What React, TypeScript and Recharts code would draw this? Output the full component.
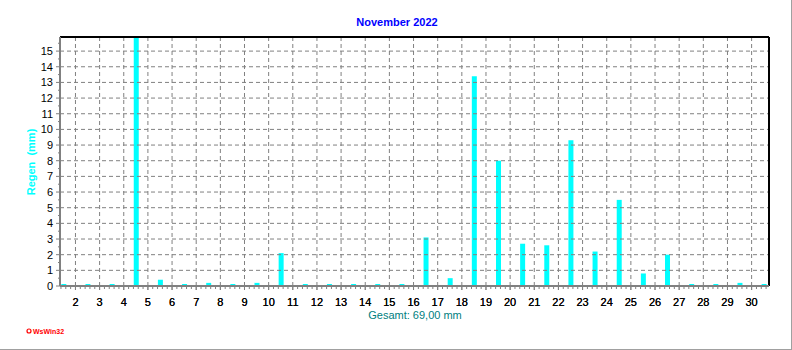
import React from 'react';
import { BarChart, Bar, XAxis, YAxis, ReferenceLine } from 'recharts';

// daily rain, November 2022 (mm)
const days = [
  1, 2, 3, 4, 5, 6, 7, 8, 9, 10, 11, 12, 13, 14, 15,
  16, 17, 18, 19, 20, 21, 22, 23, 24, 25, 26, 27, 28, 29, 30,
];
const rain = [
  0.1, 0, 0, 16.0, 0.4, 0, 0.2, 0, 0.2, 2.1, 0, 0, 0, 0, 0,
  3.1, 0.5, 13.4, 8.0, 2.7, 2.6, 9.3, 2.2, 5.5, 0.8, 2.0, 0, 0, 0.2, 0,
];
const dayTicks = [
  2, 3, 4, 5, 6, 7, 8, 9, 10, 11, 12, 13, 14, 15, 16,
  17, 18, 19, 20, 21, 22, 23, 24, 25, 26, 27, 28, 29, 30,
];
const rainTicks = [0, 1, 2, 3, 4, 5, 6, 7, 8, 9, 10, 11, 12, 13, 14, 15];
const title = 'November 2022';
const yLabel = 'Regen  (mm)';
const totalLabel = 'Gesamt: 69,00 mm';
const footer = 'WsWin32';

const X_DOMAIN: [number, number] = [1.36, 30.72];
const Y_DOMAIN: [number, number] = [0, 15.9];

// bars sit at noon of each day
const data = days.map((d, i) => ({ day: d, t: d + 0.5, rain: rain[i] }));

const round1 = (v: number) => Math.round(v * 10) / 10;
const minorX: number[] = [];
for (let v = 1.4; v < X_DOMAIN[1]; v += 0.2) minorX.push(round1(v));
const minorY: number[] = [];
for (let v = 0; v < Y_DOMAIN[1]; v += 0.5) minorY.push(v);

const isMajor = (v: number) => Math.abs(v - Math.round(v)) < 1e-6;
const FONT = '"Liberation Sans", Arial, sans-serif';
const GRAY = '#808080';

const XTick = (props: any) => {
  const { x, y, payload } = props;
  const v = payload.value;
  const major = isMajor(v) && dayTicks.includes(Math.round(v));
  return (
    <g>
      <line x1={x} x2={x} y1={y} y2={y + (major ? 4 : 3)} stroke={GRAY} />
      {major && (
        <text x={x} y={y + 20} textAnchor="middle" fontSize={11} fontFamily={FONT} fill="#000">
          {Math.round(v)}
        </text>
      )}
    </g>
  );
};

const YTick = (props: any) => {
  const { x, y, payload } = props;
  const v = payload.value;
  const major = isMajor(v);
  return (
    <g>
      <line x1={x - (major ? 4 : 2)} x2={x} y1={y} y2={y} stroke={GRAY} />
      {major && (
        <text x={x - 7} y={y + 4} textAnchor="end" fontSize={11} fontFamily={FONT} fill="#000">
          {v}
        </text>
      )}
    </g>
  );
};

export default function App() {
  return (
    <div style={{ position: 'absolute', left: 0, top: 0, width: 792, height: 350, background: '#fff' }}>
      <BarChart width={792} height={350} data={data} margin={{ top: 37, right: 23, bottom: 0, left: 0 }}>
        {dayTicks.map((d) => (
          <ReferenceLine key={'vx' + d} x={d} stroke={GRAY} strokeDasharray="4 3" />
        ))}
        {rainTicks.slice(1).map((r) => (
          <ReferenceLine key={'hy' + r} y={r} stroke={GRAY} strokeDasharray="4 3" />
        ))}
        <ReferenceLine y={Y_DOMAIN[1]} stroke="#000" strokeWidth={2} />
        <ReferenceLine x={X_DOMAIN[1]} stroke="#000" strokeWidth={2} />
        <XAxis
          type="number"
          dataKey="t"
          domain={X_DOMAIN}
          allowDataOverflow
          ticks={[...minorX, ...dayTicks].sort((a, b) => a - b)}
          interval={0}
          tickSize={0}
          tickMargin={0}
          tickLine={false}
          tick={<XTick />}
          axisLine={{ stroke: GRAY, strokeWidth: 2 }}
          height={64}
        />
        <YAxis
          domain={Y_DOMAIN}
          allowDataOverflow
          ticks={minorY}
          interval={0}
          tickSize={0}
          tickMargin={0}
          tickLine={false}
          tick={<YTick />}
          axisLine={{ stroke: GRAY, strokeWidth: 2 }}
          width={60}
        />
        <Bar dataKey="rain" fill="#00ffff" barSize={5} minPointSize={2} isAnimationActive={false} />
      </BarChart>
      <svg width={792} height={350} style={{ position: 'absolute', left: 0, top: 0, pointerEvents: 'none' }}>
        <text x={397} y={26} textAnchor="middle" fontSize={11} fontWeight="bold" fontFamily={FONT} fill="#0000ff">
          {title}
        </text>
        <text
          x={0}
          y={0}
          transform="translate(35 162) rotate(-90)"
          textAnchor="middle"
          fontSize={11}
          fontWeight="bold"
          fontFamily={FONT}
          fill="#00ffff"
          style={{ whiteSpace: 'pre' }}
        >
          {yLabel}
        </text>
        <text x={415} y={319} textAnchor="middle" fontSize={11} fontFamily={FONT} fill="#008080">
          {totalLabel}
        </text>
        <circle cx={29} cy={331} r={2} fill="none" stroke="#ff0000" strokeWidth={1.2} />
        <text x={33} y={334} fontSize={7} fontWeight="bold" fontFamily={FONT} fill="#ff0000">
          {footer}
        </text>
        <line x1={0} y1={349.5} x2={792} y2={349.5} stroke="#a0a0a0" />
        <line x1={791.5} y1={0} x2={791.5} y2={350} stroke="#a0a0a0" />
      </svg>
    </div>
  );
}
